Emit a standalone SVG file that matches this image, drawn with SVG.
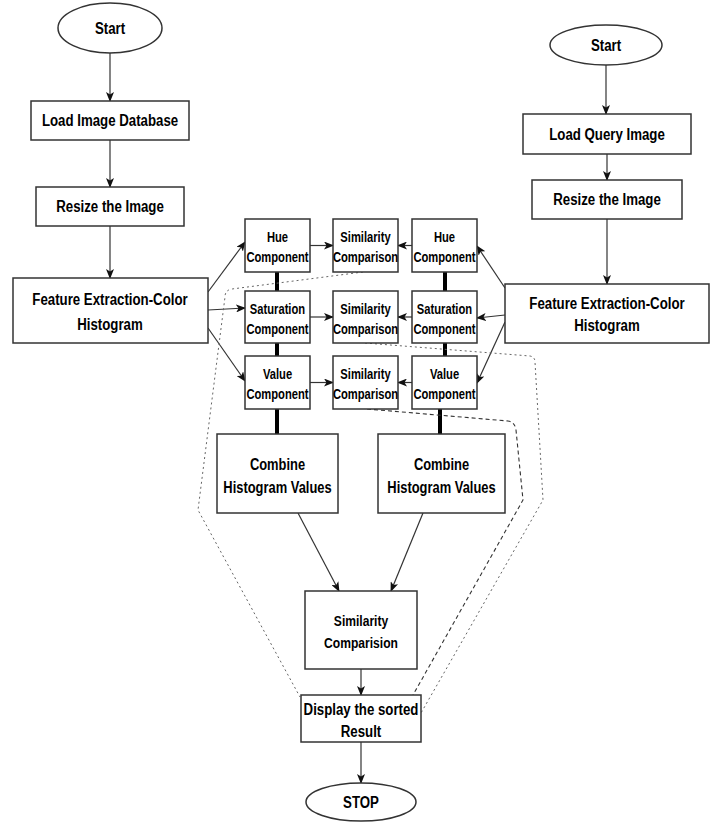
<svg xmlns="http://www.w3.org/2000/svg" width="717" height="823" viewBox="0 0 717 823">
<defs>
<marker id="ah" viewBox="0 0 10 8" refX="9" refY="4" markerWidth="10" markerHeight="8" markerUnits="userSpaceOnUse" orient="auto">
<path d="M0,0 L10,4 L0,8 L2.5,4 z" fill="#111"/>
</marker>
<style>
.box{fill:#fff;stroke:#333;stroke-width:1.5}
.t{font-family:"Liberation Sans Narrow","Arial Narrow","Liberation Sans",Arial,sans-serif;font-weight:bold;fill:#000;text-anchor:middle}
.f16{font-size:17px}
.f13{font-size:14px}
.f15{font-size:15.5px}
.ar{stroke:#333;stroke-width:1.2;fill:none;marker-end:url(#ah)}
.thick{stroke:#000;stroke-width:4;fill:none}
.dot{stroke:#666;stroke-width:1;fill:none;stroke-dasharray:2 3}
.dash{stroke:#333;stroke-width:1.1;fill:none;stroke-dasharray:4 3}
</style>
</defs>
<rect width="717" height="823" fill="#fff"/>

<g id="connectors">
<path class="ar" d="M110,53 V101"/>
<path class="ar" d="M110,140 V187"/>
<path class="ar" d="M110,226 V278"/>
<path class="ar" d="M606,65 V114"/>
<path class="ar" d="M607,154 V180"/>
<path class="ar" d="M607,219 V284"/>
<path class="ar" d="M208,292 L245,242"/>
<path class="ar" d="M208,310 L245,308"/>
<path class="ar" d="M208,328 L245,381"/>
<path class="ar" d="M505,288 L477,246"/>
<path class="ar" d="M505,315 L477,318"/>
<path class="ar" d="M505,322 L477,383"/>
<path class="ar" d="M310,245.5 H333"/>
<path class="ar" d="M310,317 H333"/>
<path class="ar" d="M310,382.5 H333"/>
<path class="ar" d="M412,245.5 H398"/>
<path class="ar" d="M412,317 H398"/>
<path class="ar" d="M412,382.5 H398"/>
<path class="thick" d="M277,272 V291 M277,343 V356 M277,409 V434"/>
<path class="thick" d="M445,272 V291 M445,343 V356 M440,409 V434"/>
<path class="ar" d="M298,513 L339,591"/>
<path class="ar" d="M423,513 L391,591"/>
<path class="ar" d="M361,669 V695"/>
<path class="ar" d="M361,742 V783"/>
<path class="dot" d="M363,272 L232,289 Q225,290 225,297 L198,510 L300,697"/>
<path class="dot" d="M365,343 L530,356 Q535,357 535,362 L543,500 L421,713"/>
<path class="dash" d="M367,409 L508,421 Q515,422 516,430 L523,500 L413,695"/>
</g>

<g id="start-left"><ellipse cx="110" cy="28" rx="52" ry="25" class="box"/><text class="t f16" transform="translate(110 34) scale(.78 1)">Start</text></g>
<g id="load-db"><rect x="31" y="101" width="158" height="39" class="box"/><text class="t f16" transform="translate(110 126) scale(.78 1)">Load Image Database</text></g>
<g id="resize-left"><rect x="36" y="187" width="148" height="39" class="box"/><text class="t f16" transform="translate(110 212) scale(.78 1)">Resize the Image</text></g>
<g id="feature-left"><rect x="13" y="278" width="195" height="65" class="box"/><text class="t f16" transform="translate(110 305) scale(.78 1)">Feature Extraction-Color</text><text class="t f16" transform="translate(110 330) scale(.78 1)">Histogram</text></g>

<g id="start-right"><ellipse cx="606" cy="45" rx="56" ry="20" class="box"/><text class="t f16" transform="translate(606 51) scale(.78 1)">Start</text></g>
<g id="load-query"><rect x="523" y="114" width="168" height="40" class="box"/><text class="t f16" transform="translate(607 140) scale(.78 1)">Load Query Image</text></g>
<g id="resize-right"><rect x="532" y="180" width="150" height="39" class="box"/><text class="t f16" transform="translate(607 205) scale(.78 1)">Resize the Image</text></g>
<g id="feature-right"><rect x="505" y="284" width="204" height="59" class="box"/><text class="t f16" transform="translate(607 309) scale(.78 1)">Feature Extraction-Color</text><text class="t f16" transform="translate(607 331) scale(.78 1)">Histogram</text></g>

<g id="hue-left"><rect x="245" y="219" width="65" height="53" class="box"/><text class="t f13" transform="translate(277.5 242) scale(.8 1)">Hue</text><text class="t f13" transform="translate(277.5 262) scale(.8 1)">Component</text></g>
<g id="sim-1"><rect x="333" y="219" width="65" height="53" class="box"/><text class="t f13" transform="translate(365.5 242) scale(.8 1)">Similarity</text><text class="t f13" transform="translate(365.5 262) scale(.8 1)">Comparison</text></g>
<g id="hue-right"><rect x="412" y="219" width="65" height="53" class="box"/><text class="t f13" transform="translate(444.5 242) scale(.8 1)">Hue</text><text class="t f13" transform="translate(444.5 262) scale(.8 1)">Component</text></g>

<g id="sat-left"><rect x="245" y="291" width="65" height="52" class="box"/><text class="t f13" transform="translate(277.5 314) scale(.8 1)">Saturation</text><text class="t f13" transform="translate(277.5 334) scale(.8 1)">Component</text></g>
<g id="sim-2"><rect x="333" y="291" width="65" height="52" class="box"/><text class="t f13" transform="translate(365.5 314) scale(.8 1)">Similarity</text><text class="t f13" transform="translate(365.5 334) scale(.8 1)">Comparison</text></g>
<g id="sat-right"><rect x="412" y="291" width="65" height="52" class="box"/><text class="t f13" transform="translate(444.5 314) scale(.8 1)">Saturation</text><text class="t f13" transform="translate(444.5 334) scale(.8 1)">Component</text></g>

<g id="val-left"><rect x="245" y="356" width="65" height="53" class="box"/><text class="t f13" transform="translate(277.5 379) scale(.8 1)">Value</text><text class="t f13" transform="translate(277.5 399) scale(.8 1)">Component</text></g>
<g id="sim-3"><rect x="333" y="356" width="65" height="53" class="box"/><text class="t f13" transform="translate(365.5 379) scale(.8 1)">Similarity</text><text class="t f13" transform="translate(365.5 399) scale(.8 1)">Comparison</text></g>
<g id="val-right"><rect x="412" y="356" width="65" height="53" class="box"/><text class="t f13" transform="translate(444.5 379) scale(.8 1)">Value</text><text class="t f13" transform="translate(444.5 399) scale(.8 1)">Component</text></g>

<g id="combine-left"><rect x="217" y="434" width="121" height="79" class="box"/><text class="t f16" transform="translate(277.5 470) scale(.76 1)">Combine</text><text class="t f16" transform="translate(277.5 493) scale(.76 1)">Histogram Values</text></g>
<g id="combine-right"><rect x="378" y="434" width="127" height="79" class="box"/><text class="t f16" transform="translate(441.5 470) scale(.76 1)">Combine</text><text class="t f16" transform="translate(441.5 493) scale(.76 1)">Histogram Values</text></g>

<g id="similarity-main"><rect x="305" y="591" width="112" height="78" class="box"/><text class="t f15" transform="translate(361 626) scale(.78 1)">Similarity</text><text class="t f15" transform="translate(361 648) scale(.78 1)">Comparision</text></g>
<g id="display"><rect x="301" y="695" width="120" height="47" class="box"/><text class="t f16" transform="translate(361 715) scale(.78 1)">Display the sorted</text><text class="t f16" transform="translate(361 737) scale(.78 1)">Result</text></g>
<g id="stop"><ellipse cx="361" cy="802" rx="55" ry="19" class="box"/><text class="t f16" transform="translate(361 808) scale(.78 1)">STOP</text></g>
</svg>
